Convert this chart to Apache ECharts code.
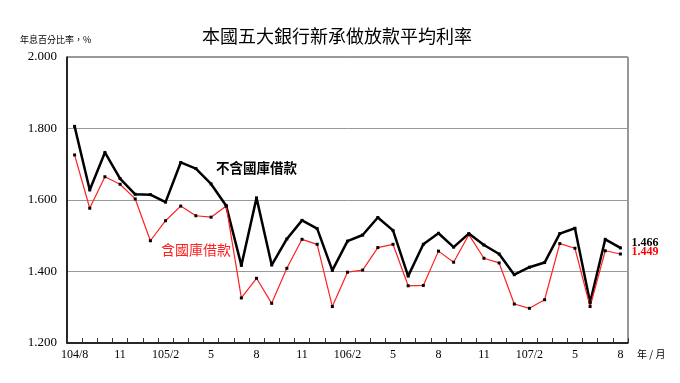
<!DOCTYPE html>
<html><head><meta charset="utf-8">
<script src="https://cdn.jsdelivr.net/npm/echarts@6/dist/echarts.min.js"></script>
<style>html,body{margin:0;padding:0;background:#fff}#c{width:680px;height:383px}</style>
</head><body><div id="c"></div>
<script>
const months = ['104/8','9','10','11','12','105/1','2','3','4','5','6','7','8','9','10','11','12',
  '106/1','2','3','4','5','6','7','8','9','10','11','12','107/1','2','3','4','5','6','7','8'];
const tickLabels = ['104/8','','','11','','','105/2','','','5','','','8','','','11','','','106/2','','','5','','','8','','','11','','','107/2','','','5','','','8'];
const excl = [1.806,1.628,1.733,1.660,1.616,1.615,1.594,1.705,1.688,1.645,1.584,1.417,1.606,1.418,1.491,1.543,1.520,1.403,1.485,1.502,1.551,1.515,1.387,1.476,1.507,1.468,1.506,1.474,1.449,1.391,1.412,1.425,1.506,1.521,1.313,1.490,1.466];
const incl = [1.726,1.577,1.665,1.644,1.603,1.486,1.542,1.583,1.556,1.552,1.583,1.326,1.381,1.311,1.409,1.490,1.476,1.302,1.398,1.404,1.467,1.476,1.360,1.361,1.457,1.426,1.503,1.437,1.424,1.309,1.297,1.321,1.478,1.465,1.302,1.458,1.449];
const seriesNames = ['不含國庫借款','含國庫借款'];
const serif = '"Liberation Serif","DejaVu Serif",serif';
const cjk = '"Noto Sans CJK TC","Noto Sans CJK SC",sans-serif';
const chart = echarts.init(document.getElementById('c'));
chart.setOption({
  animation:false,
  backgroundColor:'#fff',
  title:{text:'本國五大銀行新承做放款平均利率',left:197,top:22,textStyle:{fontFamily:cjk,fontSize:18,fontWeight:'normal',color:'#000'}},
  grid:{left:67,right:52,top:57,bottom:40,show:true,borderColor:'#333',borderWidth:1},
  xAxis:{type:'category',data:months,boundaryGap:true,
    axisLine:{lineStyle:{color:'#000',width:1.5}},
    axisTick:{show:true,inside:true,length:5,interval:0,lineStyle:{color:'#333'}},
    axisLabel:{interval:0,formatter:(v,i)=>tickLabels[i],fontFamily:serif,fontSize:12,color:'#000',margin:6}},
  yAxis:{type:'value',min:1.2,max:2.0,interval:0.2,
    axisLine:{show:true,lineStyle:{color:'#000',width:1.5}},
    axisTick:{show:false},
    splitLine:{lineStyle:{color:'#999',width:1}},
    axisLabel:{formatter:v=>v.toFixed(3),fontFamily:serif,fontSize:13,color:'#000',margin:10}},
  graphic:[
    {type:'text',left:20,top:35,style:{text:'年息百分比率，%',font:'9px '+cjk,fill:'#000'}},
    {type:'text',left:637,top:349,style:{text:'年 / 月',font:'10px '+cjk,fill:'#000'}}
  ],
  series:[
    {name:seriesNames[0],type:'line',data:excl,symbol:'rect',symbolSize:3,
      lineStyle:{color:'#000',width:2.5},itemStyle:{color:'#000'},
      endLabel:{show:true,formatter:p=>p.value.toFixed(3),fontFamily:serif,fontSize:12,fontWeight:'bold',color:'#000',offset:[3,-5]},
      markPoint:{symbol:'circle',symbolSize:0,data:[{coord:[12,1.690],value:seriesNames[0]}],
        label:{show:true,formatter:seriesNames[0],fontFamily:cjk,fontSize:13.5,fontWeight:'bold',color:'#000'}}},
    {name:seriesNames[1],type:'line',data:incl,symbol:'rect',symbolSize:3,
      lineStyle:{color:'#ff2020',width:1.2},itemStyle:{color:'#000'},
      endLabel:{show:true,formatter:p=>p.value.toFixed(3),fontFamily:serif,fontSize:12,fontWeight:'bold',color:'#ff0000',offset:[3,-2]},
      markPoint:{symbol:'circle',symbolSize:0,data:[{coord:[8,1.460],value:seriesNames[1]}],
        label:{show:true,formatter:seriesNames[1],fontFamily:cjk,fontSize:14,color:'#ff2020'}}}
  ]
});
</script></body></html>
